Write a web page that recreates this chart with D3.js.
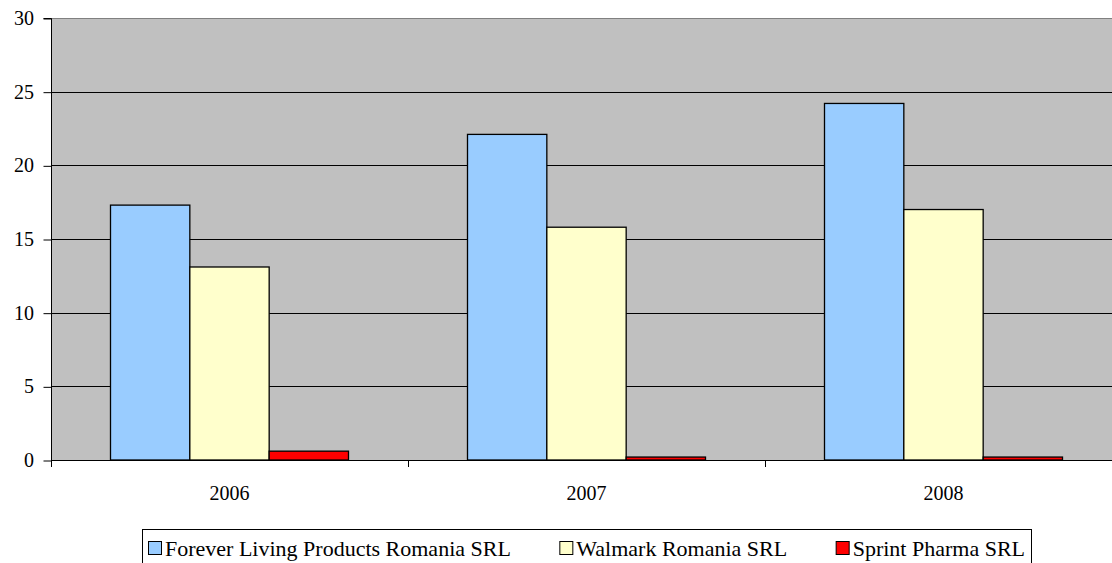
<!DOCTYPE html>
<html>
<head>
<meta charset="utf-8">
<script src="https://cdn.jsdelivr.net/npm/d3@7"></script>
</head>
<body style="margin:0">
<div id="root"></div>
<script>
const years = ["2006", "2007", "2008"];
const seriesNames = ["Forever Living Products Romania SRL", "Walmark Romania SRL", "Sprint Pharma SRL"];
const forever = [17.3, 22.1, 24.2];
const walmark = [13.1, 15.8, 17.0];
const sprint = [0.6, 0.2, 0.2];
const yTicks = [0, 5, 10, 15, 20, 25, 30];
const colors = ["#99ccff", "#ffffcc", "#ff0000"];

const width = 1112, height = 563;
const plotLeft = 51, plotTop = 18, plotBottom = 460;
const catWidth = 357;

const svg = d3.select("#root").append("svg")
  .attr("width", width)
  .attr("height", height);

const x = d3.scaleBand()
  .domain(years)
  .range([plotLeft, plotLeft + catWidth * 3]);

const y = d3.scaleLinear().domain([0, 30]).range([plotBottom, plotTop]);

const barW = catWidth / 4.5;

// plot background
svg.append("rect")
  .attr("x", plotLeft).attr("y", plotTop)
  .attr("width", catWidth * 3).attr("height", plotBottom - plotTop)
  .attr("fill", "#c0c0c0");

// gridlines
svg.append("g")
  .selectAll("line")
  .data(yTicks.filter((d) => d > 0))
  .join("line")
  .attr("x1", plotLeft).attr("x2", plotLeft + catWidth * 3)
  .attr("y1", (d) => Math.round(y(d)) + 0.5)
  .attr("y2", (d) => Math.round(y(d)) + 0.5)
  .attr("stroke", (d) => (d === 30 ? "#808080" : "#000"));

// bars
const data = [forever, walmark, sprint];
data.forEach((vals, si) => {
  svg.append("g")
    .selectAll("rect")
    .data(vals)
    .join("rect")
    .attr("x", (d, i) => x(years[i]) + barW * 0.75 + si * barW)
    .attr("y", (d) => y(d))
    .attr("width", barW)
    .attr("height", (d) => y(0) - y(d))
    .attr("fill", colors[si])
    .attr("stroke", "#000")
    .attr("stroke-width", 1.3);
});

// y axis (no labels from d3, drawn below)
const gy = svg.append("g")
  .attr("transform", `translate(${plotLeft + 0.5},0.5)`)
  .call(d3.axisLeft(y).tickValues(yTicks).tickSize(8).tickFormat(""));
gy.select(".domain").attr("stroke", "#000").attr("d", `M-8,${plotTop}H0V${plotBottom + 6}`);
gy.selectAll("line").attr("stroke", "#000");

const gx = svg.append("g")
  .attr("transform", `translate(0,${plotBottom + 0.5})`)
  .call(d3.axisBottom(x).tickSize(0).tickFormat(""));
gx.select(".domain").attr("stroke", "#000").attr("d", `M${plotLeft},0H${plotLeft + catWidth * 3}`);

// category separator ticks
svg.append("g")
  .selectAll("line")
  .data(d3.range(years.length + 1))
  .join("line")
  .attr("x1", (d) => Math.round(plotLeft + d * catWidth) + 0.5)
  .attr("x2", (d) => Math.round(plotLeft + d * catWidth) + 0.5)
  .attr("y1", plotBottom).attr("y2", plotBottom + 7)
  .attr("stroke", "#000");

// labels drawn at 30px then scaled down
const k = 2 / 3;
svg.selectAll("text.ylab")
  .data(yTicks)
  .join("text")
  .attr("class", "ylab")
  .attr("transform", (d) => `translate(34,${y(d) + 7}) scale(${k})`)
  .attr("text-anchor", "end")
  .attr("font-size", 30)
  .style("font-family", (d) => '"Liberation Serif"')
  .text((d) => d);

svg.selectAll("text.xlab")
  .data(years)
  .join("text")
  .attr("class", "xlab")
  .attr("transform", (d) => `translate(${x(d) + x.bandwidth() / 2},${plotBottom + 40}) scale(${k})`)
  .attr("text-anchor", "middle")
  .attr("font-size", 30)
  .style("font-family", (d) => '"Liberation Serif"')
  .text((d) => d);

// legend
const legend = svg.append("g");
legend.append("rect")
  .attr("x", 142.5).attr("y", 529.5)
  .attr("width", 889).attr("height", 40)
  .attr("fill", "#fff").attr("stroke", "#000");

const items = legend.selectAll("g.item")
  .data(seriesNames)
  .join("g")
  .attr("class", "item");
items.append("rect")
  .attr("x", 0.5).attr("y", 541.5)
  .attr("width", 13).attr("height", 13)
  .attr("fill", (d, i) => colors[i]).attr("stroke", "#000");
const lk = 22 / 30;
items.append("text")
  .attr("transform", `translate(17,556) scale(${lk})`)
  .attr("font-size", 30)
  .style("font-family", (d) => '"Liberation Serif"')
  .attr("fill", "#000")
  .text((d) => d);

// lay items side by side from 148 to 1025
let cur = 148;
const widths = [];
items.each(function () {
  widths.push(17 + lk * d3.select(this).select("text").node().getComputedTextLength());
});
const step = Math.max(6, ((1025 - 148) - d3.sum(widths)) / (widths.length - 1));
items.attr("transform", (d, i) => {
  const tx = cur;
  cur += widths[i] + step;
  return `translate(${tx},0)`;
});
</script>
</body>
</html>
